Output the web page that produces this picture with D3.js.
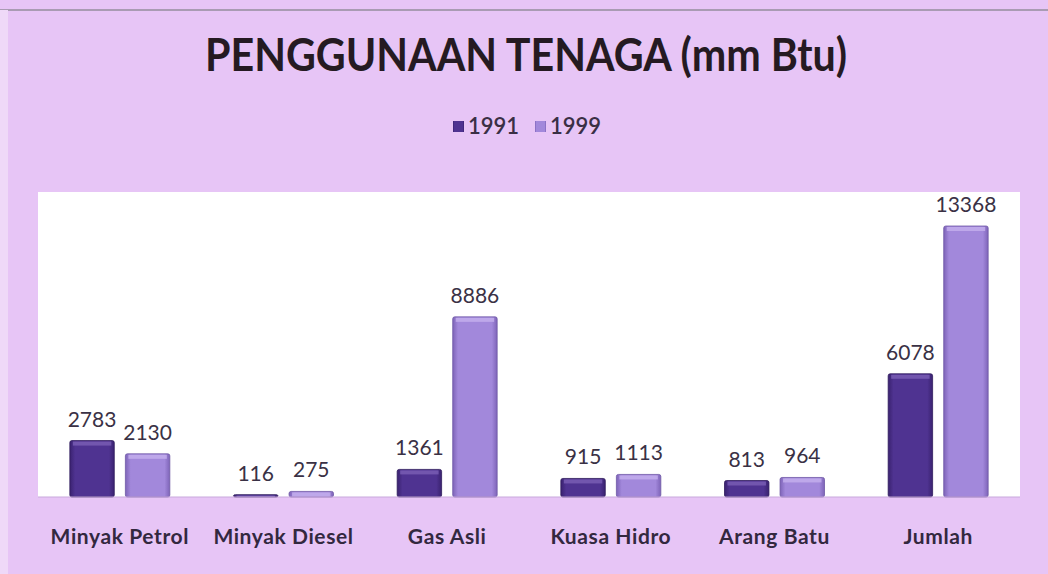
<!DOCTYPE html>
<meta charset="utf-8">
<script src="https://d3js.org/d3.v7.min.js"></script>
<style>
  body { margin: 0; background: #e7c5f6; }
</style>
<div id="my_dataviz"></div>
<script>
// data
var categories = ["Minyak Petrol", "Minyak Diesel", "Gas Asli", "Kuasa Hidro", "Arang Batu", "Jumlah"];
var years = ["1991", "1999"];
var values1991 = [2783, 116, 1361, 915, 813, 6078];
var values1999 = [2130, 275, 8886, 1113, 964, 13368];

var width = 1048, height = 574;
var plot = {left: 38, right: 1020, top: 192, bottom: 497};

var svg = d3.select("#my_dataviz")
  .append("svg")
    .attr("width", width)
    .attr("height", height);

// background
svg.append("rect").attr("width", width).attr("height", height).attr("fill", "#e7c5f6");
svg.append("line")
  .attr("x1", 0).attr("x2", width).attr("y1", 10).attr("y2", 10)
  .attr("stroke", "#a99bb3").attr("stroke-width", 2);
svg.append("rect")
  .attr("x", 0).attr("y", 10).attr("width", 8).attr("height", height)
  .attr("fill", "#efd9f8");

// white plot area
svg.append("rect")
  .attr("x", plot.left).attr("y", plot.top)
  .attr("width", plot.right - plot.left).attr("height", plot.bottom - plot.top)
  .attr("fill", "#ffffff");

// gradients for the bevelled bars
var defs = svg.append("defs");
var colors = {"1991": ["#3a2270", "#4f3391", "#3a2270"], "1999": ["#7e64b8", "#a288db", "#7e64b8"]};
years.forEach(function(y) {
  var g = defs.append("linearGradient").attr("id", "g" + y).attr("x1", 0).attr("x2", 1).attr("y1", 0).attr("y2", 0);
  g.append("stop").attr("offset", "0%").attr("stop-color", colors[y][0]);
  g.append("stop").attr("offset", "12%").attr("stop-color", colors[y][1]);
  g.append("stop").attr("offset", "88%").attr("stop-color", colors[y][1]);
  g.append("stop").attr("offset", "100%").attr("stop-color", colors[y][2]);
});

var x0 = d3.scaleBand()
  .domain(categories)
  .range([plot.left, plot.right]);

var x1 = d3.scaleBand()
  .domain(years)
  .range([0, 100])
  .paddingInner(0.2);

var y = d3.scaleLinear()
  .domain([0, 13368])
  .range([plot.bottom, 226]);

var rows = categories.map(function(c, i) {
  return {cat: c, vals: [{year: "1991", v: values1991[i]}, {year: "1999", v: values1999[i]}]};
});

var groups = svg.selectAll(".grp")
  .data(rows)
  .enter().append("g")
    .attr("transform", function(d) { return "translate(" + (x0(d.cat) + x0.bandwidth() / 2 - 50) + ",0)"; });

groups.selectAll("rect")
  .data(function(d) { return d.vals; })
  .enter().append("rect")
    .attr("x", function(d) { return x1(d.year); })
    .attr("y", function(d) { return y(d.v); })
    .attr("width", x1.bandwidth())
    .attr("height", function(d) { return plot.bottom - y(d.v); })
    .attr("rx", 2)
    .attr("fill", function(d) { return "url(#g" + d.year + ")"; })
    .attr("stroke", function(d) { return d.year == "1991" ? "#2f1b5c" : "#6f58a6"; })
    .attr("stroke-width", 0.8);

// top highlight
groups.selectAll(".hl")
  .data(function(d) { return d.vals; })
  .enter().append("rect")
    .attr("x", function(d) { return x1(d.year) + 3; })
    .attr("y", function(d) { return y(d.v) + 1; })
    .attr("width", x1.bandwidth() - 6)
    .attr("height", function(d) { return Math.min(4, plot.bottom - y(d.v) - 1); })
    .attr("fill", function(d) { return d.year == "1991" ? "#7a5fb5" : "#c5b0ee"; })
    .attr("opacity", 0.8);

groups.selectAll(".lbl")
  .data(function(d) { return d.vals; })
  .enter().append("text")
    .attr("x", function(d) { return x1(d.year) + x1.bandwidth() / 2; })
    .attr("y", function(d) { return y(d.v) - 14; })
    .attr("text-anchor", "middle")
    .style("font-family", "Lato, sans-serif")
    .style("font-size", "21px")
    .attr("fill", "#3a3145")
    .text(function(d) { return d.v; });

// baseline
svg.append("line")
  .attr("x1", plot.left).attr("x2", plot.right)
  .attr("y1", plot.bottom).attr("y2", plot.bottom)
  .attr("stroke", "#c9a9dc").attr("stroke-width", 1);

// category axis
var xAxis = svg.append("g")
  .attr("transform", "translate(0," + plot.bottom + ")")
  .call(d3.axisBottom(x0).tickSize(0).tickPadding(32));
xAxis.select(".domain").remove();
xAxis.selectAll("text")
  .style("font-family", "Lato, sans-serif")
  .style("font-size", "21px")
  .style("font-weight", "bold")
  .style("letter-spacing", "0.6px")
  .attr("fill", "#33283f");

// title
svg.append("text")
  .attr("x", 526).attr("y", 71)
  .attr("text-anchor", "middle")
  .attr("textLength", 642)
  .attr("lengthAdjust", "spacingAndGlyphs")
  .style("font-family", "Lato, sans-serif")
  .style("font-size", "45px")
  .style("font-weight", "bold")
  .attr("fill", "#251a22")
  .text("PENGGUNAAN TENAGA (mm Btu)");

// legend
var legend = svg.append("g").attr("transform", "translate(453,128)");
var lx = [0, 82];
years.forEach(function(yr, i) {
  legend.append("rect")
    .attr("x", lx[i]).attr("y", -7).attr("width", 11).attr("height", 11)
    .attr("fill", "url(#g" + yr + ")");
  legend.append("text")
    .attr("x", lx[i] + 15).attr("y", 6)
    .style("font-family", "Lato, sans-serif")
    .style("font-size", "22px")
    .style("font-weight", "600")
    .attr("fill", "#3a2f45")
    .text(yr);
});
</script>
